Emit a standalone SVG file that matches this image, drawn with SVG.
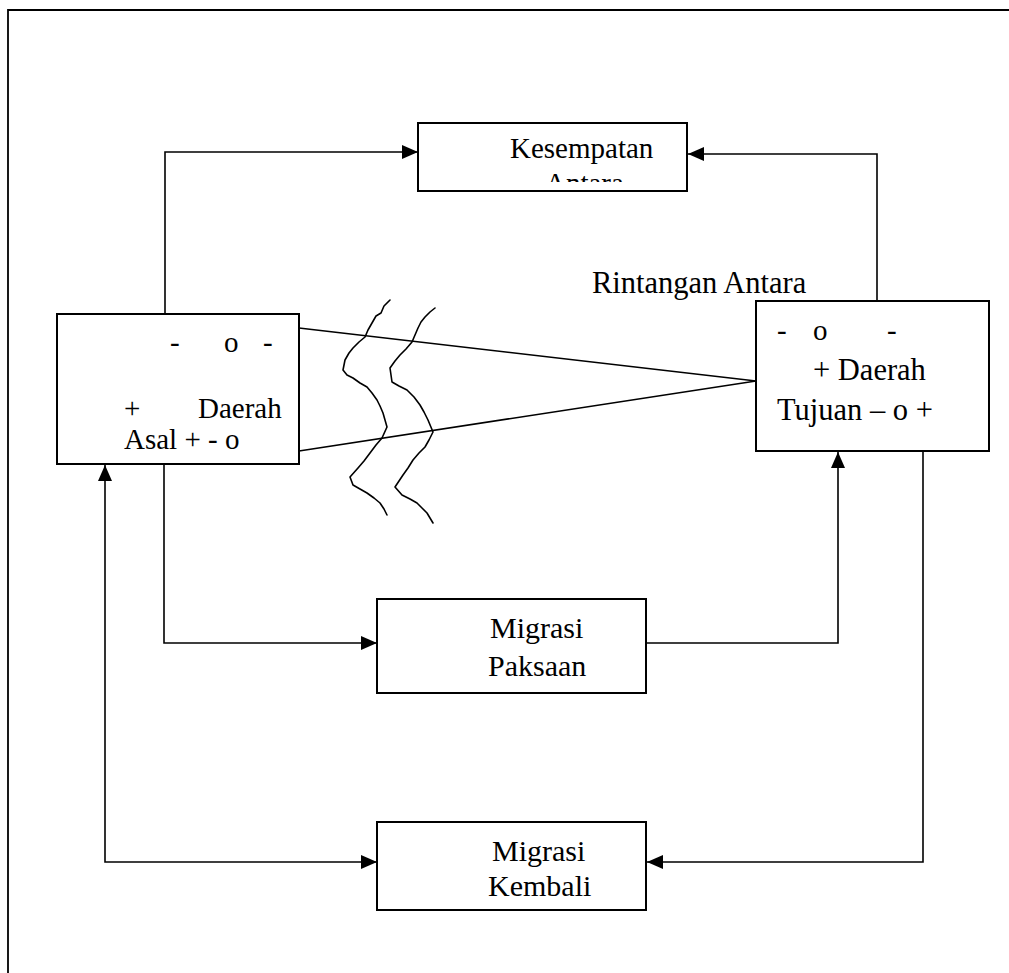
<svg xmlns="http://www.w3.org/2000/svg" width="1009" height="973" viewBox="0 0 1009 973">
<style>
.box{fill:#fff;stroke:#000;stroke-width:2}
.ln{fill:none;stroke:#000;stroke-width:1.6}
.wv{fill:none;stroke:#000;stroke-width:1.6;stroke-linejoin:round;stroke-linecap:round}
text{font-family:"Liberation Serif","Times New Roman",serif;font-size:29px;fill:#000}
.big{font-size:30.5px}
.mg{font-size:30px}
</style>
<defs>
<marker id="ah" markerUnits="userSpaceOnUse" markerWidth="16" markerHeight="14" refX="16" refY="7" orient="auto-start-reverse">
<path d="M0,0 L16,7 L0,14 Z" fill="#000"/>
</marker>
<clipPath id="clipK"><rect x="419" y="124" width="267" height="58"/></clipPath>
</defs>
<rect width="1009" height="973" fill="#fff"/>
<path d="M8,973 V10 H1009" fill="none" stroke="#000" stroke-width="1.8"/>

<g id="connectors">
<polyline class="ln" points="165,314 165,152 418,152" marker-end="url(#ah)"/>
<polyline class="ln" points="877,300 877,154 688,154" marker-end="url(#ah)"/>
<line class="ln" x1="299" y1="328" x2="756" y2="381"/>
<line class="ln" x1="299" y1="451" x2="756" y2="381"/>
<polyline class="ln" points="164,465 164,643 377,643" marker-end="url(#ah)"/>
<polyline class="ln" points="646,643 838,643 838,452" marker-end="url(#ah)"/>
<polyline class="ln" points="105,465 105,862 377,862" marker-start="url(#ah)" marker-end="url(#ah)"/>
<polyline class="ln" points="923,451 923,862 647,862" marker-end="url(#ah)"/>
</g>

<g id="barrier">
<path class="wv" d="M390,300 L384,306 L381,313 L376,316 L372,323 L368,330 L365,337 L359,342 L353,348 L349,353 L345,360 L343,370 L347,375 L353,378 L360,383 L367,387 L372,393 L377,400 L380,406 L383,413 L385,420 L387,427 L382,438 L376,445 L370,453 L364,461 L358,468 L350,477 L353,485 L360,489 L367,493 L374,498 L380,503 L384,509 L387,515"/>
<path class="wv" d="M435,308 L430,312 L425,317 L421,322 L418,328 L415,335 L412,342 L406,349 L400,355 L395,361 L390,368 L392,382 L399,386 L407,390 L414,397 L420,405 L424,412 L428,420 L433,432 L429,440 L425,447 L419,453 L413,460 L408,468 L403,475 L395,487 L402,495 L410,499 L417,503 L422,508 L427,513 L430,518 L433,523"/>
</g>

<g id="kesempatan">
<rect class="box" x="418" y="123" width="269" height="68"/>
<g clip-path="url(#clipK)">
<text x="510" y="158">Kesempatan</text>
<text x="545" y="193">Antara</text>
</g>
</g>

<g id="rintangan">
<text class="big" x="592" y="293">Rintangan Antara</text>
</g>

<g id="asal">
<rect class="box" x="57" y="314" width="242" height="150"/>
<text x="170" y="352">-</text>
<text x="224" y="352">o</text>
<text x="263" y="352">-</text>
<text x="124" y="418">+</text>
<text x="198" y="418">Daerah</text>
<text x="124" y="449">Asal + - o</text>
</g>

<g id="tujuan">
<rect class="box" x="756" y="301" width="233" height="150"/>
<text x="777" y="340">-</text>
<text x="813" y="340">o</text>
<text x="887" y="340">-</text>
<text class="big" x="813" y="380">+ Daerah</text>
<text class="big" x="777" y="420">Tujuan – o +</text>
</g>

<g id="paksaan">
<rect class="box" x="377" y="599" width="269" height="94"/>
<text class="mg" x="490" y="638">Migrasi</text>
<text class="mg" x="488" y="676">Paksaan</text>
</g>

<g id="kembali">
<rect class="box" x="377" y="822" width="269" height="88"/>
<text class="mg" x="492" y="861">Migrasi</text>
<text class="mg" x="488" y="896">Kembali</text>
</g>
</svg>
